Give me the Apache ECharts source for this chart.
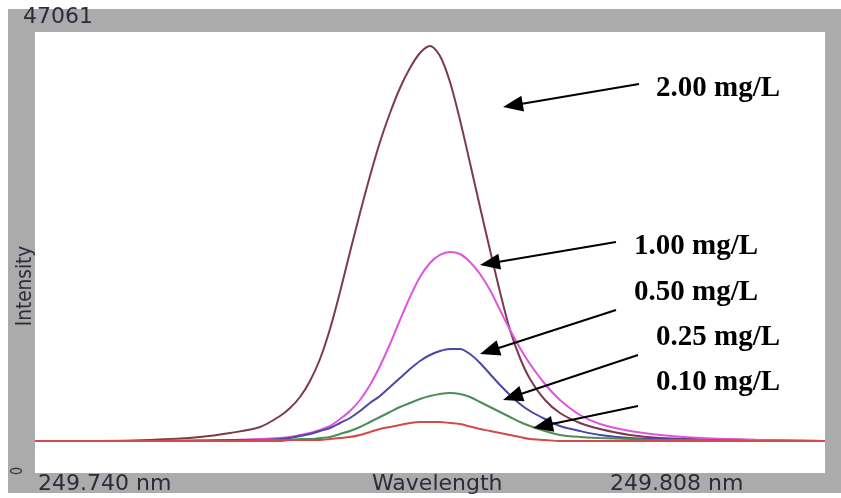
<!DOCTYPE html>
<html>
<head>
<meta charset="utf-8">
<script src="https://cdn.jsdelivr.net/npm/echarts@6/dist/echarts.min.js"></script>
<style>
html,body{margin:0;padding:0;background:#fff;}
#wrap{position:relative;width:841px;height:498px;overflow:hidden;}
#frame{position:absolute;left:8px;top:9px;width:833px;height:484px;background:#ababab;}
#chart{position:absolute;left:0;top:0;width:841px;height:498px;}
</style>
</head>
<body>
<div id="wrap"><div id="frame"></div><div id="chart"></div></div>
<script>
// Wavelength grid (nm)
const wavelength = [249.7400,249.7465,249.7515,249.7565,249.7595,249.7625,249.7645,249.7655,249.7665,249.7675,
  249.7685,249.7695,249.7705,249.7715,249.7725,249.7735,249.7745,249.7755,249.7765,249.7775,
  249.7785,249.7795,249.7805,249.7815,249.7825,249.7835,249.7845,249.7855,249.7865,249.7875,
  249.7885,249.7895,249.7910,249.7925,249.7945,249.7965,249.7995,249.8025,249.8065,249.8125,249.8190];

// Intensities per concentration
const conc200 = [3415,3415,3522,3842,4269,4909,6083,6937,8110,9817,
  12165,15367,19315,23584,27745,31694,35323,38417,41085,43219,
  44820,45567,44499,41725,37670,33082,28386,23797,19315,15260,
  12272,10031,7790,6403,5336,4695,4055,3735,3628,3522,3415];
const conc100 = [3415,3415,3415,3522,3522,3628,3735,3842,4055,4269,
  4588,5016,5762,6616,7790,9391,11418,13766,16328,18782,
  20916,22410,23264,23584,23371,22517,21237,19529,17395,15260,
  13339,11632,9497,7790,6190,5229,4482,4055,3735,3522,3415];
const conc050 = [3415,3415,3415,3415,3522,3522,3628,3735,3948,4162,
  4482,4802,5336,5869,6616,7470,8217,9177,10138,11098,
  11952,12592,13019,13233,13233,12699,11738,10565,9391,8324,
  7363,6616,5762,5016,4482,4055,3735,3628,3522,3415,3415];
const conc025 = [3415,3415,3415,3415,3415,3522,3522,3522,3628,3628,
  3735,3842,4162,4482,4908,5443,5976,6510,7043,7470,
  7897,8217,8430,8537,8430,8110,7577,7043,6510,5976,
  5443,5016,4482,4055,3842,3735,3628,3522,3522,3415,3415];
const conc010 = [3415,3415,3415,3415,3415,3415,3415,3522,3522,3522,
  3522,3628,3735,3842,4055,4375,4695,4909,5122,5336,
  5442,5442,5442,5336,5229,4962,4695,4482,4269,4055,
  3842,3628,3522,3415,3415,3415,3415,3415,3415,3415,3415];

const seriesNames = ['2.00 mg/L','1.00 mg/L','0.50 mg/L','0.25 mg/L','0.10 mg/L'];
const seriesValues = [conc200, conc100, conc050, conc025, conc010];
const seriesColors = ['#7d3a4c','#de55de','#4848a8','#4a8e58','#d24a4a'];

const yMax = 47061;
const xMin = 249.740, xMax = 249.819;
const yTickLabels = ['0','47061'];
const xTickLabels = ['249.740 nm','249.808 nm'];
const xTitle = 'Wavelength', yTitle = 'Intensity';

// annotation layout: [label, textX, textY(center), lineStartX, lineStartY, tipX, tipY]
const annotations = [
  ['2.00 mg/L', 656, 89, 639, 84, 503, 107],
  ['1.00 mg/L', 634, 247, 616, 242, 480, 265],
  ['0.50 mg/L', 634, 293, 616, 310, 480, 354],
  ['0.25 mg/L', 656, 338, 638, 355, 503, 400],
  ['0.10 mg/L', 656, 383, 638, 406, 533, 428]
];

function arrow(x1,y1,x2,y2){
  const L=20, W=8;
  const dx=x2-x1, dy=y2-y1, d=Math.sqrt(dx*dx+dy*dy);
  const ux=dx/d, uy=dy/d;
  const bx=x2-ux*L, by=y2-uy*L;
  return [
    {type:'line', shape:{x1:x1,y1:y1,x2:bx+ux*2,y2:by+uy*2}, style:{stroke:'#000',lineWidth:2}, z:100},
    {type:'polygon', shape:{points:[[x2,y2],[bx-uy*W,by+ux*W],[bx+uy*W,by-ux*W]]}, style:{fill:'#000'}, z:100}
  ];
}

const graphics = [];
const sansFont = '"DejaVu Sans", Verdana, sans-serif';
graphics.push({type:'text', x:23, y:17, style:{text:yTickLabels[1], font:'22px '+sansFont, fill:'#2b2b3a', align:'left', verticalAlign:'middle'}});
graphics.push({type:'text', x:38, y:484, style:{text:xTickLabels[0], font:'22px '+sansFont, fill:'#2b2b3a', align:'left', verticalAlign:'middle'}});
graphics.push({type:'text', x:610, y:484, style:{text:xTickLabels[1], font:'22px '+sansFont, fill:'#2b2b3a', align:'left', verticalAlign:'middle'}});
graphics.push({type:'text', x:372, y:484, style:{text:xTitle, font:'22px '+sansFont, fill:'#2b2b3a', align:'left', verticalAlign:'middle'}});
graphics.push({type:'text', x:25, y:286, rotation:Math.PI/2, scaleX:0.84, style:{text:yTitle, font:'22px '+sansFont, fill:'#2b2b3a', align:'center', verticalAlign:'middle'}});
graphics.push({type:'text', x:18, y:471, rotation:Math.PI/2, scaleX:0.84, style:{text:yTickLabels[0], font:'15px '+sansFont, fill:'#2b2b3a', align:'center', verticalAlign:'middle'}});

annotations.forEach(a=>{
  graphics.push({type:'text', x:a[1], y:a[2], z:100, style:{text:a[0], font:'bold 29px "Liberation Serif", "Times New Roman", serif', fill:'#000', align:'left', verticalAlign:'middle'}});
  arrow(a[3],a[4],a[5],a[6]).forEach(g=>graphics.push(g));
});

const chart = echarts.init(document.getElementById('chart'), null, {renderer:'canvas'});
chart.setOption({
  backgroundColor:'transparent',
  animation:false,
  grid:{left:35, right:16, top:32, bottom:25, show:true, backgroundColor:'#fff', borderWidth:0},
  xAxis:{type:'value', min:xMin, max:xMax, show:false},
  yAxis:{type:'value', min:0, max:yMax, show:false},
  series: seriesNames.map((n,i)=>({
    name:n, type:'line', showSymbol:false, smooth:0.3,
    data: wavelength.map((w,j)=>[w, seriesValues[i][j]]),
    lineStyle:{color:seriesColors[i], width:2},
    itemStyle:{color:seriesColors[i]},
    z: 2+i
  })),
  graphic: graphics
});
</script>
</body>
</html>
